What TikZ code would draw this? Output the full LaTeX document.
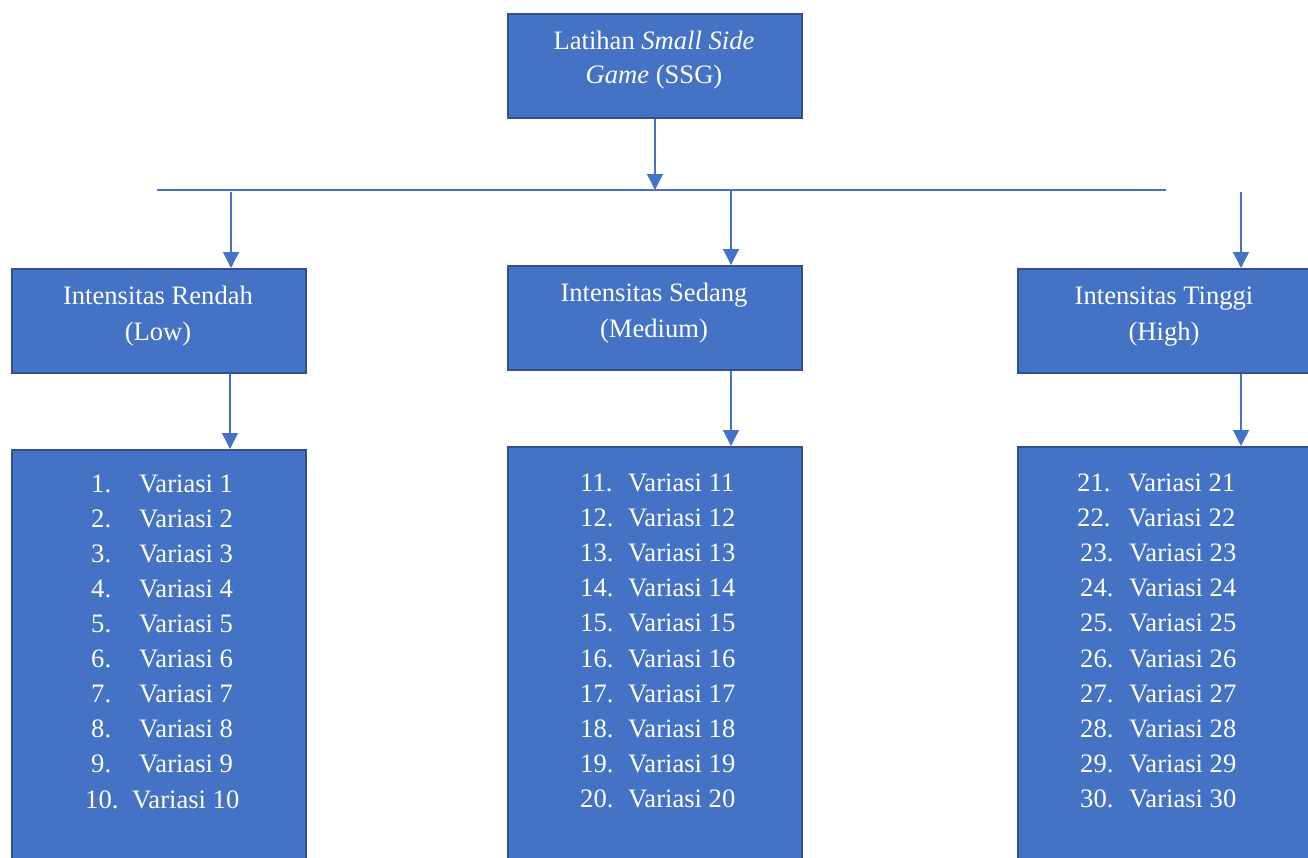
\documentclass[tikz,border=0pt]{standalone}
\usepackage{fontspec}
\setmainfont{Liberation Serif}
\usetikzlibrary{arrows.meta}
\definecolor{boxfill}{HTML}{4472C4}
\definecolor{boxedge}{HTML}{2F528F}
\definecolor{linkblue}{HTML}{4472C4}
\begin{document}
\begin{tikzpicture}[x=1pt,y=-1pt,
  box/.style={draw=boxedge,line width=2pt,fill=boxfill,inner sep=0pt,
    minimum width=294pt,anchor=north west},
  txt/.style={text=white,font=\fontsize{26.6}{36}\selectfont,inner sep=0pt},
  arr/.style={draw=linkblue,line width=1.3pt,-{Triangle[width=16pt,length=16pt]}},
  link/.style={draw=linkblue,line width=1.3pt}]
\useasboundingbox (0,0) rectangle (1308,857);

% boxes
\node[box,minimum height=104pt] (top) at (507,13) {};
\node[box,minimum height=104pt] (lowH) at (11,268) {};
\node[box,minimum height=104pt] (medH) at (507,265) {};
\node[box,minimum height=104pt] (highH) at (1017,268) {};
\node[box,minimum height=424pt] (lowL) at (11,449) {};
\node[box,minimum height=424pt] (medL) at (507,446) {};
\node[box,minimum height=424pt] (highL) at (1017,446) {};

% box headings
\node[txt,anchor=base] (t1) at (654,49) {Latihan \textit{Small Side}};
\node[txt,anchor=base] (t2) at (654,83) {\textit{Game} (SSG)};
\node[txt,anchor=base] (l1) at (158,304) {Intensitas Rendah};
\node[txt,anchor=base] (l2) at (158,340) {(Low)};
\node[txt,anchor=base] (m1) at (654,301) {Intensitas Sedang};
\node[txt,anchor=base] (m2) at (654,337) {(Medium)};
\node[txt,anchor=base] (h1) at (1164,304) {Intensitas Tinggi};
\node[txt,anchor=base] (h2) at (1164,340) {(High)};

% numbered lists
\foreach \i in {1,...,9}{
  \node[txt,anchor=base west] (ln\i) at (91,{492+35.1*(\i-1)}) {\i.};
  \node[txt,anchor=base west] (lv\i) at (139,{492+35.1*(\i-1)}) {Variasi \i};
}
\node[txt,anchor=base west] (ln10) at (85,808) {10.};
\node[txt,anchor=base west] (lv10) at (132,808) {Variasi 10};
\foreach \i in {11,...,20}{
  \node[txt,anchor=base west] (mn\i) at (580,{491+35.2*(\i-11)}) {\i.};
  \node[txt,anchor=base west] (mv\i) at (628,{491+35.2*(\i-11)}) {Variasi \i};
}
\foreach \i in {21,22}{
  \node[txt,anchor=base west] (hn\i) at (1077,{491+35.2*(\i-21)}) {\i.};
  \node[txt,anchor=base west] (hv\i) at (1128,{491+35.2*(\i-21)}) {Variasi \i};
}
\foreach \i in {23,...,30}{
  \node[txt,anchor=base west] (hn\i) at (1080,{491+35.2*(\i-21)}) {\i.};
  \node[txt,anchor=base west] (hv\i) at (1129,{491+35.2*(\i-21)}) {Variasi \i};
}

% connectors
\coordinate (hl) at (157,190);
\coordinate (hr) at (1166,190);
\draw[link] (hl) -- (hr);
\draw[arr] (top.south) -- (top.south |- hl);

\coordinate (bL) at (231,192);
\coordinate (bM) at (731,190);
\coordinate (bH) at (1241,192);
\draw[arr] (bL) -- (bL |- lowH.north);
\draw[arr] (bM) -- (bM |- medH.north);
\draw[arr] (bH) -- (bH |- highH.north);

\coordinate (xL) at (230,0);
\coordinate (xM) at (731,0);
\coordinate (xH) at (1241,0);
\draw[arr] (lowH.south -| xL) -- (lowL.north -| xL);
\draw[arr] (medH.south -| xM) -- (medL.north -| xM);
\draw[arr] (highH.south -| xH) -- (highL.north -| xH);
\end{tikzpicture}
\end{document}
